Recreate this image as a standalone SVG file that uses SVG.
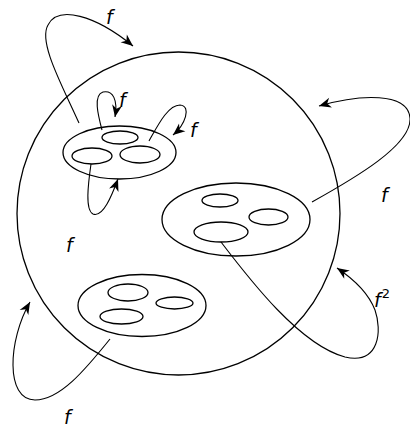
<svg xmlns="http://www.w3.org/2000/svg" width="410" height="427" viewBox="0 0 410 427">
<defs>
<marker id="ah" viewBox="-13 -6 14 12" refX="0" refY="0" markerWidth="14" markerHeight="12" markerUnits="userSpaceOnUse" orient="auto">
<path d="M0,0 L-12,-5 L-8.5,0 L-12,5 Z" fill="#000"/>
</marker>
</defs>
<style>
.s{fill:none;stroke:#000;stroke-width:1.3}
.c{fill:none;stroke:#000;stroke-width:1.1;marker-end:url(#ah)}
.t{font-family:"DejaVu Sans",sans-serif;font-style:italic;font-size:19px;fill:#000}
</style>
<rect width="410" height="427" fill="#fff"/>
<g id="space">
<circle class="s" cx="178.5" cy="213.5" r="161.5"/>
</g>
<g id="setA">
<ellipse class="s" cx="119.5" cy="152.5" rx="56.5" ry="26.5"/>
<ellipse class="s" cx="120" cy="137.5" rx="18" ry="6.5"/>
<ellipse class="s" cx="92" cy="156" rx="20" ry="8"/>
<ellipse class="s" cx="140" cy="154.5" rx="20" ry="8.5"/>
</g>
<g id="setB">
<ellipse class="s" cx="236" cy="219.5" rx="74" ry="36.5"/>
<ellipse class="s" cx="220" cy="200.5" rx="18" ry="6.5"/>
<ellipse class="s" cx="268.5" cy="217" rx="19.5" ry="8"/>
<ellipse class="s" cx="221" cy="232" rx="27" ry="10"/>
</g>
<g id="setC">
<ellipse class="s" cx="142" cy="305.5" rx="64" ry="31"/>
<ellipse class="s" cx="128" cy="292.5" rx="20" ry="8.5"/>
<ellipse class="s" cx="174.5" cy="303" rx="18.5" ry="6"/>
<ellipse class="s" cx="121.5" cy="316.5" rx="21.5" ry="7.5"/>
</g>
<g id="connectors">
<path class="c" d="M79,123 C62,85 38,42 48,25 C58,5 95,15 133,46"/>
<path class="c" d="M312,202 C355,178 412,145 410,118 C408,92 360,94 319,106"/>
<path class="c" d="M221,242 C250,280 300,345 345,357 C380,365 382,330 375,310 C368,292 352,278 337,268"/>
<path class="c" d="M110,339 C85,370 60,400 35,400 C5,400 8,340 30,302"/>
<path class="c" d="M102,130 C98,115 93,95 103,92 C113,90 118,100 115,117"/>
<path class="c" d="M149,141 C158,125 168,105 180,105 C192,106 185,125 173,135"/>
<path class="c" d="M91,164 C88,185 85,210 93,214 C103,218 112,195 118,179"/>
</g>
<g id="labels">
<text class="t" x="106" y="24">f</text>
<text class="t" x="119" y="107">f</text>
<text class="t" x="190" y="137">f</text>
<text class="t" x="381" y="202">f</text>
<text class="t" x="66" y="252">f</text>
<text class="t" x="374" y="307">f<tspan font-size="13" font-style="normal" dx="1" dy="-9">2</tspan></text>
<text class="t" x="64" y="424">f</text>
</g>
</svg>
